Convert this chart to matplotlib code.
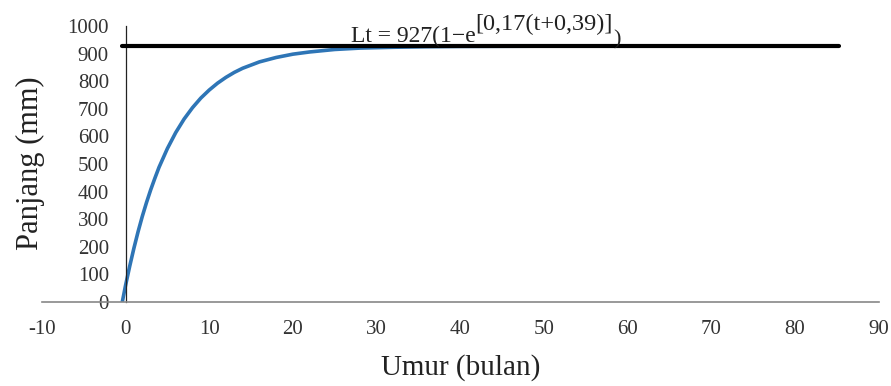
import matplotlib
matplotlib.use("Agg")
import matplotlib.pyplot as plt
from matplotlib.transforms import IdentityTransform

# growth curve (umur in bulan, panjang in mm)
umur = [-0.39, -0.2, 0, 0.5, 1, 1.5, 2, 2.5, 3, 3.5, 4, 5, 6, 7, 8, 9, 10,
        11, 12, 13, 14, 16, 18, 20, 22, 25, 28, 32, 36, 40, 50, 60, 70, 85]
panjang = [0, 29, 60, 130, 195, 255, 310, 360, 406, 448, 488, 556, 614, 663,
           704, 739, 768, 793, 814, 832, 847, 870, 886, 898, 906, 915, 920,
           923, 925, 926, 927, 927, 927, 927]

# asymptote line L-infinity
linf_x = [-0.4, 85.3]
linf_y = [927, 927]

xticks = list(range(-10, 91, 10))
yticks = list(range(0, 1001, 100))

eq_main = "Lt = 927(1\u2212e"
eq_sup = "[0,17(t+0,39)]"
eq_end = ")"

plt.rcParams["font.family"] = ["Liberation Serif", "DejaVu Serif"]
plt.rcParams["axes.unicode_minus"] = False

fig = plt.figure(figsize=(8.91, 3.86), dpi=100)
ax = fig.add_axes([0.047, 0.2176, 0.939, 0.715])

ax.plot(umur, panjang, color="#2E75B6", lw=2.6, solid_capstyle="round", zorder=2)
ax.plot(linf_x, linf_y, color="black", lw=3.0, solid_capstyle="round", zorder=3)

ax.set_xlim(-10, 90)
ax.set_ylim(0, 1000)
ax.set_xticks(xticks)
ax.set_yticks(yticks)
ax.spines["top"].set_visible(False)
ax.spines["right"].set_visible(False)
ax.spines["left"].set_position(("data", 0))
ax.spines["left"].set_color("#222222")
ax.spines["left"].set_linewidth(0.9)
ax.spines["bottom"].set_color("#888888")
ax.spines["bottom"].set_linewidth(1.2)
ax.tick_params(axis="x", length=0, pad=13, labelsize=15, colors="#333333")
ax.tick_params(axis="y", length=0, pad=12, labelsize=15, colors="#333333")

# equation: main text, raised exponent, closing paren
t1 = ax.text(26.9, 942, eq_main, fontsize=17, color="#222222",
             ha="left", va="baseline")
fig.canvas.draw()
r = fig.canvas.get_renderer()
b1 = t1.get_window_extent(r)
base = ax.transData.transform((0, 942))[1]
t2 = ax.text(b1.x1, base + 12, eq_sup, fontsize=17.5, color="#222222",
             ha="left", va="baseline", transform=IdentityTransform())
b2 = t2.get_window_extent(r)
ax.text(b2.x1 + 1, base - 2, eq_end, fontsize=16, color="#222222",
        ha="left", va="baseline", transform=IdentityTransform())

fig.text(0.034, 0.578, "Panjang (mm)", rotation=90, fontsize=22,
         ha="center", va="center", color="#222222")
fig.text(0.517, 0.047, "Umur (bulan)", fontsize=21,
         ha="center", va="center", color="#222222")

fig.savefig("out.png", dpi=100)
